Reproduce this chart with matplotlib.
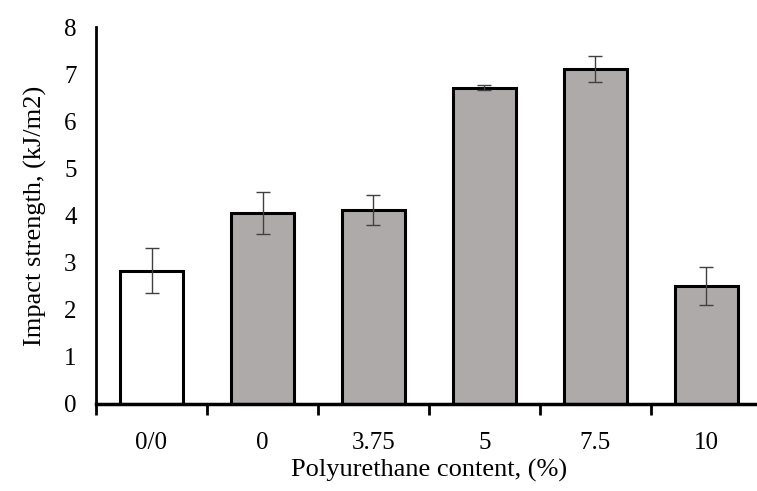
import numpy as np
import matplotlib.pyplot as plt
from matplotlib.ticker import FixedLocator, NullFormatter

categories = ["0/0", "0", "3.75", "5", "7.5", "10"]
impact = [2.83, 4.05, 4.12, 6.71, 7.11, 2.50]
errors = [0.48, 0.45, 0.32, 0.05, 0.27, 0.40]
colors = ["white", "#aeaaaa", "#aeaaaa", "#aeaaaa", "#aeaaaa", "#aeaaaa"]

plt.rcParams['font.family'] = ['Liberation Serif', 'DejaVu Serif']

fig = plt.figure(figsize=(7.57, 4.91), dpi=100)
W, H = 757, 491
ax = fig.add_axes([96 / W, 87 / H, 666 / W, 377 / H])

x = np.arange(len(categories))
ax.bar(x, impact, width=0.56, color=colors, edgecolor="black", linewidth=2.2, zorder=2)
ax.errorbar(x, impact, yerr=errors, fmt="none", ecolor="#404040",
            elinewidth=1, capsize=5, capthick=1, zorder=3)

ax.set_xlim(-0.5, len(categories) - 0.5)
ax.set_ylim(0, 8)
ax.set_yticks(range(0, 9))
ax.tick_params(axis="y", length=0, labelsize=18, pad=14)

# ticks between categories, labels at centres
ax.xaxis.set_major_locator(FixedLocator(np.arange(-0.5, len(categories), 1.0)))
ax.xaxis.set_major_formatter(NullFormatter())
ax.xaxis.set_minor_locator(FixedLocator(x))
ax.set_xticklabels(categories, minor=True)
ax.tick_params(axis="x", which="major", direction="out", length=8, width=2)
ax.tick_params(axis="x", which="minor", length=0, labelsize=18, pad=20)

for side in ["top", "right"]:
    ax.spines[side].set_visible(False)
ax.spines["left"].set_linewidth(2)
ax.spines["bottom"].set_linewidth(2.5)

ax.set_ylabel("Impact strength, (kJ/m2)", fontsize=19, labelpad=12)
ax.set_xlabel("Polyurethane content, (%)", fontsize=19, labelpad=4)

fig.savefig("out.png", dpi=100)
